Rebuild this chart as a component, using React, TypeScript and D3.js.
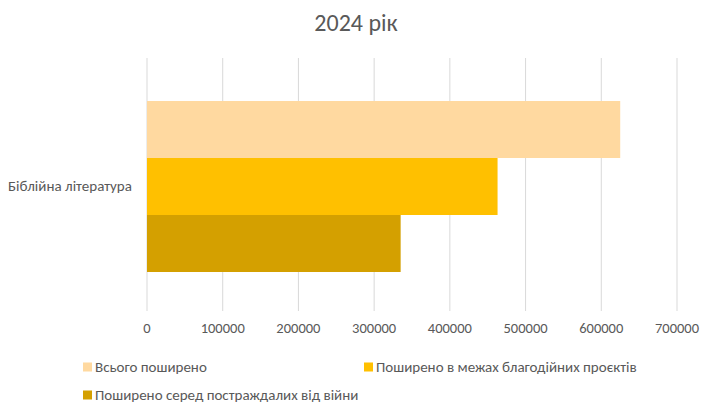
import React from "react";
import * as d3 from "d3";

const categories = ["Біблійна література"];
const seriesNames = [
  "Всього поширено",
  "Поширено в межах благодійних проєктів",
  "Поширено серед постраждалих від війни",
];
const seriesValues = [625000, 463000, 335000];
const seriesColors = ["#FFD9A0", "#FFC000", "#D4A000"];
const xTicks = [0, 100000, 200000, 300000, 400000, 500000, 600000, 700000];
const title = "2024 рік";

const W = 715;
const H = 413;
const FONT = "Carlito, Calibri, 'Liberation Sans', Arial, sans-serif";

export default function App() {
  const left = 147;
  const right = 677;
  const top = 58;
  const bottom = 311;

  const x = d3.scaleLinear().domain([0, 700000]).range([left, right]);
  // category band (centred on bars), bars occupy groupH within it
  const band = d3.scaleBand().domain(categories).range([62, 311]);
  const groupH = 171;
  const inner = d3.scaleBand().domain(seriesNames).range([0, groupH]);

  return (
    <div style={{ position: "absolute", left: 0, top: 0 }}>
      <svg width={W} height={H} style={{ display: "block", background: "#fff" }} fontFamily={FONT}>
        <text x={356} y={31} textAnchor="middle" fontSize={24} fill="#595959">
          {title}
        </text>
        {xTicks.map((t) => (
          <line key={t} x1={x(t)} x2={x(t)} y1={top} y2={bottom} stroke="#D9D9D9" strokeWidth={1} />
        ))}
        {categories.map((c) =>
          seriesNames.map((s, i) => (
            <rect
              key={c + s}
              x={x(0)}
              y={(band(c) as number) + (band.bandwidth() - groupH) / 2 + (inner(s) as number)}
              width={x(seriesValues[i]) - x(0)}
              height={inner.bandwidth()}
              fill={seriesColors[i]}
            />
          ))
        )}
        {categories.map((c) => (
          <text key={c} x={8} y={(band(c) as number) + band.bandwidth() / 2 + 4.5} fontSize={15} fill="#595959">
            {c}
          </text>
        ))}
        {xTicks.map((t) => (
          <text key={t} x={x(t)} y={333} textAnchor="middle" fontSize={14.5} fill="#595959">
            {t}
          </text>
        ))}
        {[
          { i: 0, lx: 83, ly: 367 },
          { i: 1, lx: 364, ly: 367 },
          { i: 2, lx: 83, ly: 395 },
        ].map(({ i, lx, ly }) => (
          <g key={i}>
            <rect x={lx} y={ly - 4.5} width={9} height={9} fill={seriesColors[i]} />
            <text x={lx + 12} y={ly + 5} fontSize={15} fill="#595959">
              {seriesNames[i]}
            </text>
          </g>
        ))}
      </svg>
    </div>
  );
}
